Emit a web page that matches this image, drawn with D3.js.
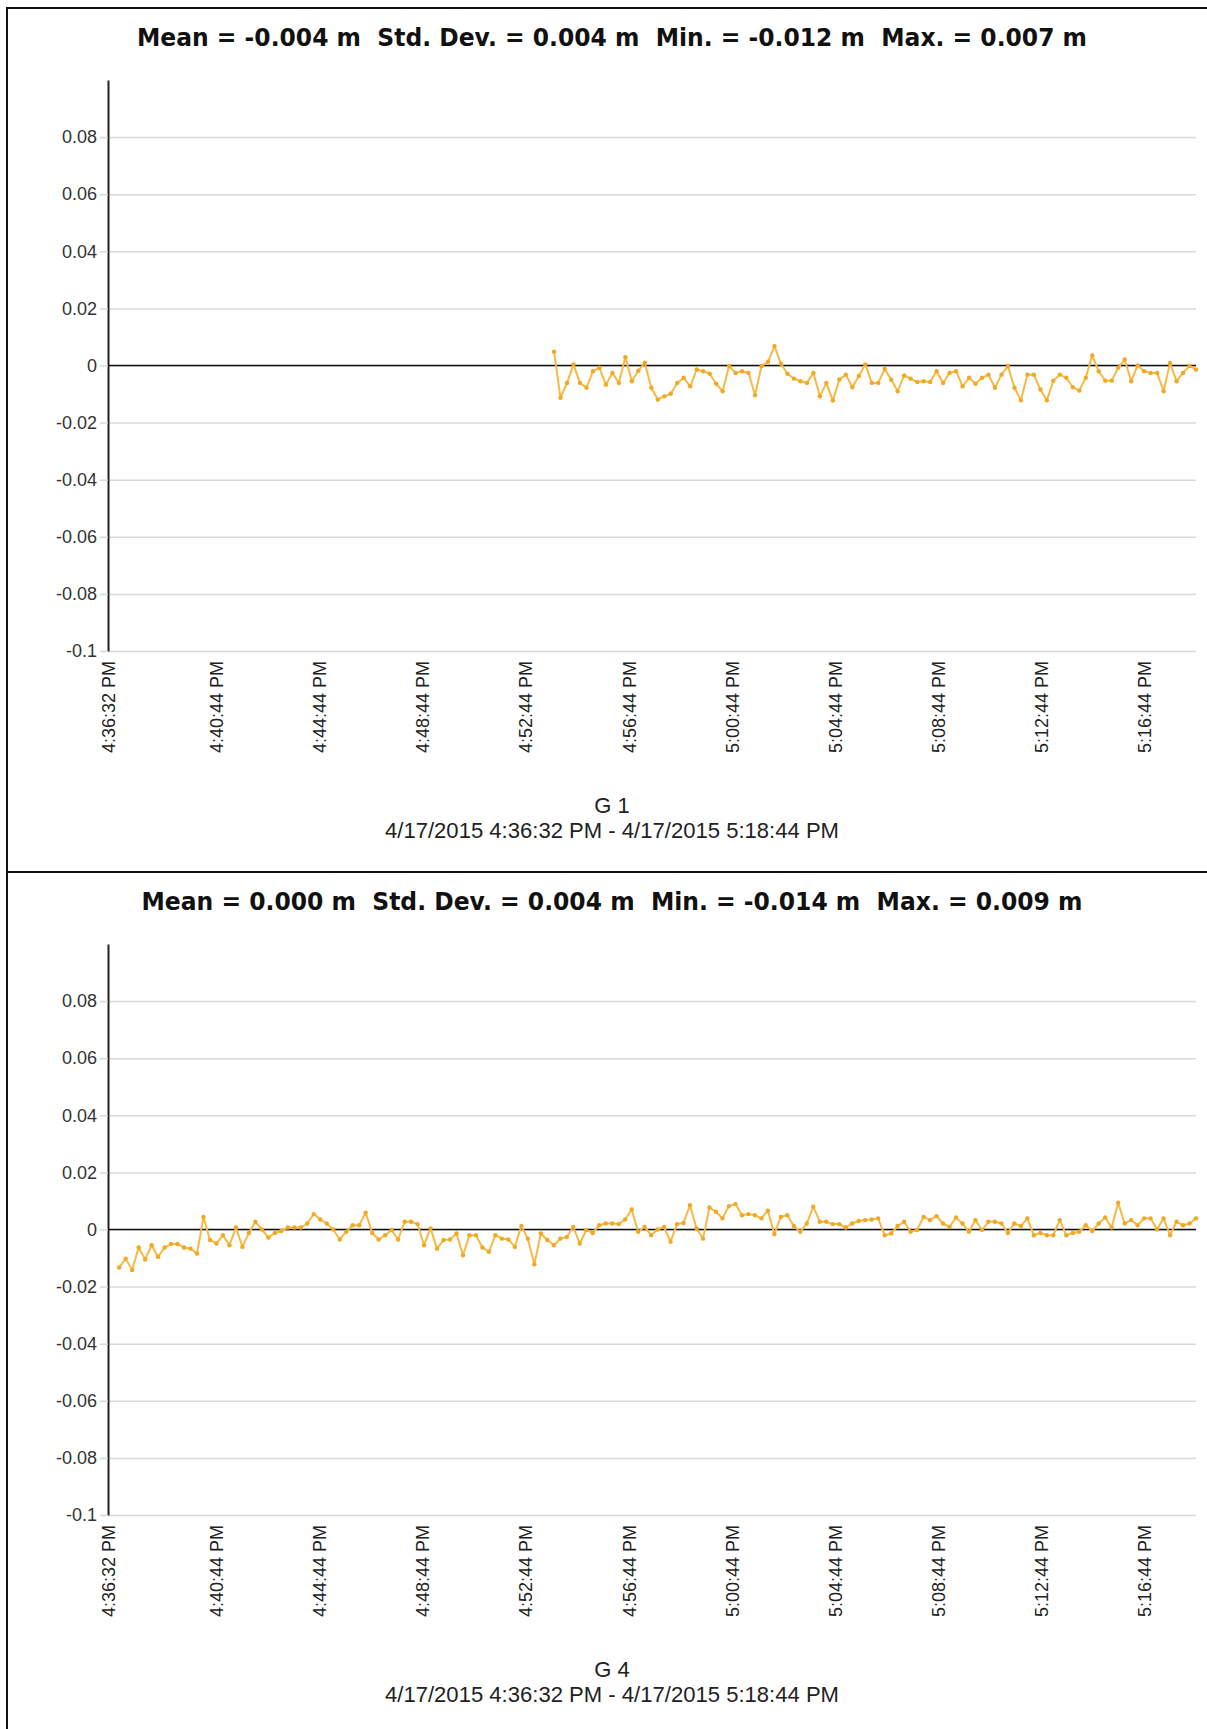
<!DOCTYPE html>
<html><head><meta charset="utf-8">
<script src="https://cdn.jsdelivr.net/npm/d3@7"></script>
<style>
html,body{margin:0;padding:0;background:#fff;}
svg{display:block;font-family:"Liberation Sans",Arial,sans-serif;}
</style></head><body>
<svg id="chart" width="1207" height="1729"></svg>
<script>
// ---------------- data ----------------
const panelNames = ["G 1", "G 4"];
const panelTitles = [
  "Mean = -0.004 m  Std. Dev. = 0.004 m  Min. = -0.012 m  Max. = 0.007 m",
  "Mean = 0.000 m  Std. Dev. = 0.004 m  Min. = -0.014 m  Max. = 0.009 m"
];
const rangeLabel = "4/17/2015 4:36:32 PM - 4/17/2015 5:18:44 PM";
const axisStart = "4:36:32 PM";
const axisEnd = "5:18:44 PM";
const xTickLabels = ["4:36:32 PM","4:40:44 PM","4:44:44 PM","4:48:44 PM","4:52:44 PM","4:56:44 PM",
                     "5:00:44 PM","5:04:44 PM","5:08:44 PM","5:12:44 PM","5:16:44 PM"];
const yTickValues = [0.08, 0.06, 0.04, 0.02, 0, -0.02, -0.04, -0.06, -0.08, -0.1];
const yTickLabels = ["0.08","0.06","0.04","0.02","0","-0.02","-0.04","-0.06","-0.08","-0.1"];

const g1Start = "4:53:50 PM", g1End = "5:18:44 PM";
const g1Values = [
  0.0048,-0.0113,-0.0061,0.0004,-0.0061,-0.0078,-0.0020,-0.0008,-0.0067,-0.0026,
  -0.0061,0.0029,-0.0055,-0.0018,0.0010,-0.0078,-0.0119,-0.0108,-0.0099,-0.0061,
  -0.0043,-0.0073,-0.0014,-0.0020,-0.0029,-0.0064,-0.0090,-0.0002,-0.0026,-0.0020,
  -0.0026,-0.0104,-0.0002,0.0013,0.0068,0.0006,-0.0029,-0.0046,-0.0055,-0.0061,
  -0.0026,-0.0108,-0.0061,-0.0123,-0.0049,-0.0032,-0.0076,-0.0037,0.0004,-0.0061,
  -0.0061,-0.0012,-0.0050,-0.0090,-0.0035,-0.0046,-0.0058,-0.0055,-0.0058,-0.0020,
  -0.0061,-0.0026,-0.0020,-0.0073,-0.0043,-0.0064,-0.0043,-0.0032,-0.0078,-0.0032,
  -0.0002,-0.0078,-0.0122,-0.0032,-0.0032,-0.0084,-0.0122,-0.0053,-0.0032,-0.0043,
  -0.0076,-0.0088,-0.0043,0.0035,-0.0020,-0.0053,-0.0053,-0.0008,0.0021,-0.0055,
  0.0000,-0.0020,-0.0026,-0.0026,-0.0090,0.0009,-0.0055,-0.0026,-0.0002,-0.0014
];

const g4Start = "4:36:58 PM", g4End = "5:18:44 PM";
const g4Values = [
  -0.0133,-0.0102,-0.0142,-0.0063,-0.0105,-0.0055,-0.0096,-0.0063,-0.0051,-0.0051,
  -0.0063,-0.0067,-0.0084,0.0044,-0.0037,-0.0049,-0.0020,-0.0055,0.0007,-0.0061,
  -0.0012,0.0027,0.0000,-0.0028,-0.0012,-0.0005,0.0007,0.0007,0.0007,0.0021,
  0.0054,0.0035,0.0021,0.0000,-0.0035,-0.0008,0.0015,0.0015,0.0059,-0.0012,
  -0.0035,-0.0020,-0.0002,-0.0035,0.0027,0.0027,0.0019,-0.0055,0.0004,-0.0067,
  -0.0037,-0.0035,-0.0014,-0.0090,
  -0.0020,-0.0020,-0.0063,-0.0078,-0.0020,-0.0032,-0.0035,-0.0061,0.0012,-0.0032,
  -0.0122,-0.0014,-0.0037,-0.0055,-0.0032,-0.0026,0.0009,-0.0049,-0.0002,-0.0012,
  0.0015,0.0021,0.0021,0.0019,0.0035,0.0070,-0.0008,0.0009,-0.0020,0.0000,
  0.0009,-0.0043,0.0019,0.0023,0.0085,0.0004,-0.0032,0.0077,0.0062,0.0039,
  0.0082,0.0089,0.0050,0.0054,0.0050,0.0039,0.0066,-0.0016,0.0044,0.0050,
  0.0012,-0.0008,0.0021,0.0080,0.0027,0.0027,
  0.0019,0.0019,0.0007,0.0021,0.0030,0.0033,0.0035,0.0039,-0.0020,-0.0014,
  0.0012,0.0027,-0.0008,-0.0002,0.0044,0.0033,0.0047,0.0021,0.0009,0.0042,
  0.0021,-0.0008,0.0033,-0.0002,0.0027,0.0027,0.0021,-0.0012,0.0021,0.0012,
  0.0039,-0.0020,-0.0012,-0.0020,-0.0020,0.0033,-0.0020,-0.0012,-0.0008,0.0015,
  -0.0005,0.0021,0.0042,0.0007,0.0094,0.0021,0.0033,0.0015,0.0039,0.0039,
  0.0000,0.0039,-0.0020,0.0027,0.0015,0.0021,0.0039
];

const seriesStarts = [g1Start, g4Start];
const seriesEnds = [g1End, g4End];
const seriesValues = [g1Values, g4Values];

// ---------------- layout ----------------
const panelH = 864;
const plotLeft = 108, plotRight = 1196, plotTop = 80, plotBottom = 651;
const centerX = 612;
const titleWidths = [950, 941];
const lineColor = "#f7b945", dotColor = "#f2a822";

const parseT = d3.timeParse("%I:%M:%S %p");
const x = d3.scaleTime().domain([parseT(axisStart), parseT(axisEnd)]).range([plotLeft, plotRight]);
const y = d3.scaleLinear().domain([-0.1, 0.1]).range([plotBottom, plotTop]);
const xTickTimes = xTickLabels.map(parseT);

const svg = d3.select("#chart");
svg.append("rect").attr("width", 1207).attr("height", 1729).attr("fill", "#fff");

panelNames.forEach((name, i) => {
  const g = svg.append("g").attr("transform", `translate(0,${i * panelH})`);

  // panel border
  g.append("rect").attr("x", 7).attr("y", 8).attr("width", 1215).attr("height", panelH)
    .attr("fill", "none").attr("stroke", "#111").attr("stroke-width", 2);

  // title
  g.append("text").attr("x", centerX).attr("y", 46).attr("text-anchor", "middle")
    .style("white-space", "pre")
    .attr("font-family", "'DejaVu Sans', Verdana, sans-serif")
    .attr("font-weight", "bold").attr("font-size", 24).attr("fill", "#111")
    .attr("textLength", titleWidths[i]).attr("lengthAdjust", "spacingAndGlyphs")
    .text(panelTitles[i]);

  // grid lines
  const grid = g.append("g").attr("transform", `translate(${plotLeft},0)`)
    .call(d3.axisLeft(y).tickValues(yTickValues).tickSize(-(plotRight - plotLeft)).tickFormat(""));
  grid.select(".domain").remove();
  grid.selectAll(".tick line").attr("stroke", "#d8d8d8").attr("stroke-width", 1.5);

  // y axis
  const ya = g.append("g").attr("transform", `translate(${plotLeft},0)`)
    .call(d3.axisLeft(y).tickValues(yTickValues).tickSize(8).tickPadding(3).tickSizeOuter(0)
      .tickFormat((d, k) => yTickLabels[k]));
  ya.select(".domain").attr("stroke", "#222").attr("stroke-width", 2);
  ya.selectAll(".tick line").attr("stroke", "#d8d8d8").attr("stroke-width", 1.5);
  ya.selectAll(".tick text").attr("font-size", 18).attr("fill", "#333")
    .attr("font-family", "'Liberation Sans', Arial, sans-serif");

  // x axis
  const xa = g.append("g").attr("transform", `translate(0,${plotBottom})`)
    .call(d3.axisBottom(x).tickValues(xTickTimes).tickSize(0).tickFormat((d, k) => xTickLabels[k]));
  xa.select(".domain").remove();
  xa.selectAll(".tick text")
    .attr("transform", "rotate(-90)").attr("text-anchor", "end")
    .attr("x", -10).attr("y", 0).attr("dy", "0.35em")
    .attr("font-size", 18).attr("fill", "#222")
    .attr("font-family", "'Liberation Sans', Arial, sans-serif");

  // zero line
  g.append("line").attr("x1", x.range()[0]).attr("x2", x.range()[1])
    .attr("y1", y(0)).attr("y2", y(0)).attr("stroke", "#111").attr("stroke-width", 1.6);

  // series
  const vals = seriesValues[i];
  const t0 = parseT(seriesStarts[i]).getTime(), t1 = parseT(seriesEnds[i]).getTime();
  const pts = vals.map((v, k) => ({ t: new Date(t0 + (t1 - t0) * k / (vals.length - 1)), v }));
  g.append("path").datum(pts)
    .attr("fill", "none").attr("stroke", lineColor).attr("stroke-width", 2)
    .attr("stroke-linejoin", "round")
    .attr("d", d3.line().x(d => x(d.t)).y(d => y(d.v)));
  g.append("g").selectAll("circle").data(pts).join("circle")
    .attr("cx", d => x(d.t)).attr("cy", d => y(d.v)).attr("r", 2.2).attr("fill", dotColor);

  // bottom labels
  g.append("text").attr("x", centerX).attr("y", 813).attr("text-anchor", "middle")
    .attr("font-size", 22).attr("fill", "#222").text(name);
  g.append("text").attr("x", centerX).attr("y", 838).attr("text-anchor", "middle")
    .attr("font-size", 22).attr("fill", "#222")
    .attr("textLength", 454).attr("lengthAdjust", "spacingAndGlyphs")
    .text(rangeLabel);
});
</script>
</body></html>
